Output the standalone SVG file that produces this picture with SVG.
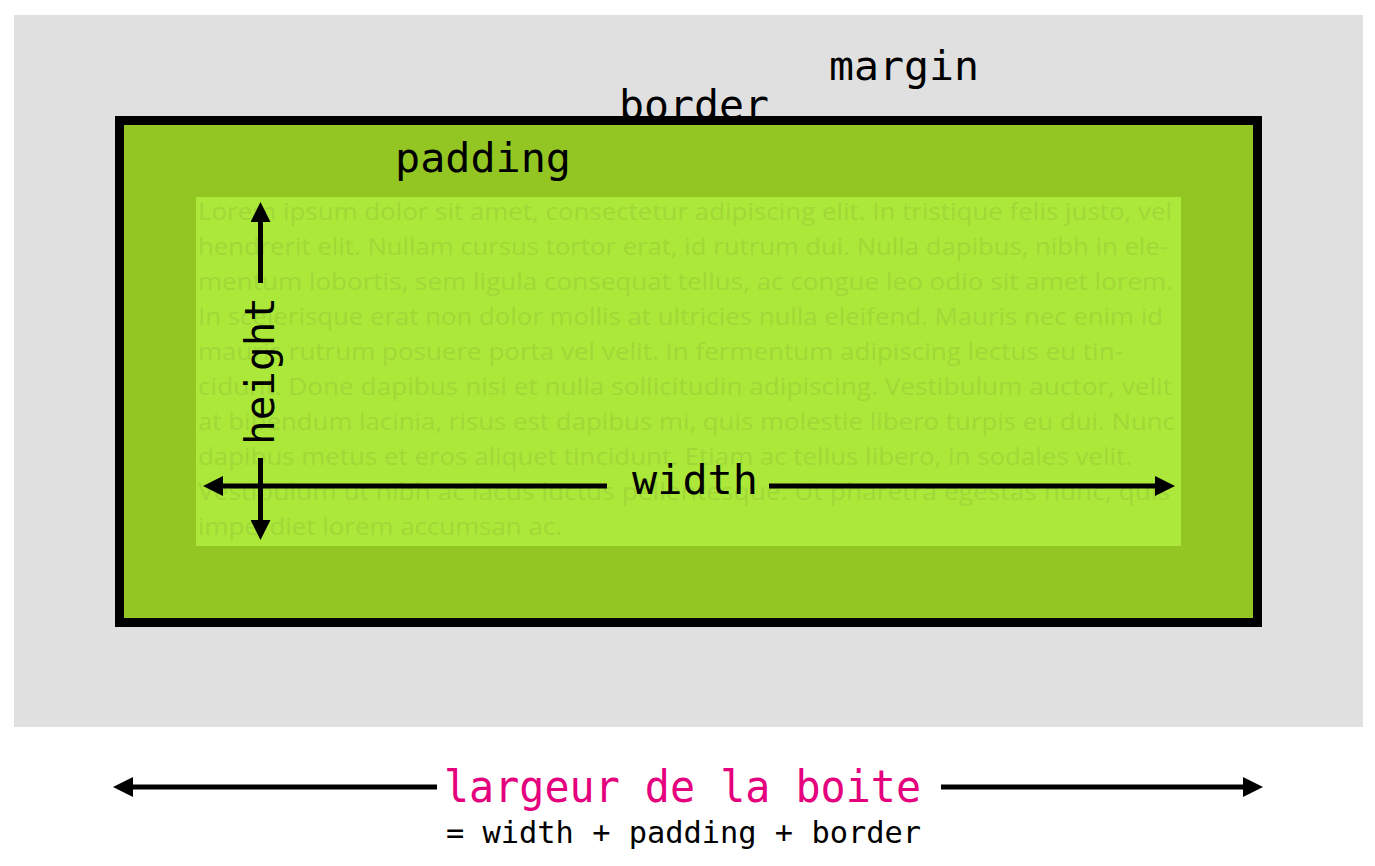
<svg xmlns="http://www.w3.org/2000/svg" width="1375" height="866" viewBox="0 0 1375 866">
  <defs>
    <marker id="ah" viewBox="0 0 20 20" refX="0" refY="10" markerWidth="20" markerHeight="20" markerUnits="userSpaceOnUse" orient="auto-start-reverse">
      <path d="M0,0 L20,10 L0,20 z" fill="#000"/>
    </marker>
    <style>
      .mono { font-family: "DejaVu Sans Mono", "Liberation Mono", monospace; fill: #000; }
      .lorem { font-family: "Open Sans", "Noto Sans", sans-serif; font-size: 24px; fill: #a0d838; }
      .arrow { stroke: #000; stroke-width: 5; fill: none; }
    </style>
  </defs>
  <rect width="1375" height="866" fill="#fff"/>

  <g id="margin">
    <rect x="14" y="15" width="1349" height="712" fill="#e0e0e0"/>
    <text class="mono" x="829" y="80" font-size="40" textLength="150" lengthAdjust="spacingAndGlyphs">margin</text>
  </g>

  <g id="border">
    <text class="mono" x="619" y="119" font-size="40" textLength="150" lengthAdjust="spacingAndGlyphs">border</text>
    <rect x="119.5" y="120.5" width="1138" height="502" fill="#93c623" stroke="#000" stroke-width="9"/>
  </g>

  <g id="padding">
    <text class="mono" x="395" y="172" font-size="40" textLength="176" lengthAdjust="spacingAndGlyphs">padding</text>
  </g>

  <g id="content">
    <rect x="196" y="197" width="985" height="349" fill="#ace83a"/>
    <text class="lorem" x="198" y="220" textLength="974" lengthAdjust="spacingAndGlyphs">Lorem ipsum dolor sit amet, consectetur adipiscing elit. In tristique felis justo, vel</text>
    <text class="lorem" x="198" y="255" textLength="970" lengthAdjust="spacingAndGlyphs">hendrerit elit. Nullam cursus tortor erat, id rutrum dui. Nulla dapibus, nibh in ele-</text>
    <text class="lorem" x="198" y="290" textLength="975" lengthAdjust="spacingAndGlyphs">mentum lobortis, sem ligula consequat tellus, ac congue leo odio sit amet lorem.</text>
    <text class="lorem" x="198" y="325" textLength="965" lengthAdjust="spacingAndGlyphs">In scelerisque erat non dolor mollis at ultricies nulla eleifend. Mauris nec enim id</text>
    <text class="lorem" x="198" y="360" textLength="925" lengthAdjust="spacingAndGlyphs">mauris rutrum posuere porta vel velit. In fermentum adipiscing lectus eu tin-</text>
    <text class="lorem" x="198" y="395" textLength="974" lengthAdjust="spacingAndGlyphs">cidunt. Done dapibus nisi et nulla sollicitudin adipiscing. Vestibulum auctor, velit</text>
    <text class="lorem" x="198" y="430" textLength="977" lengthAdjust="spacingAndGlyphs">at bibendum lacinia, risus est dapibus mi, quis molestie libero turpis eu dui. Nunc</text>
    <text class="lorem" x="198" y="465" textLength="934" lengthAdjust="spacingAndGlyphs">dapibus metus et eros aliquet tincidunt. Etiam ac tellus libero, in sodales velit.</text>
    <text class="lorem" x="198" y="500" textLength="972" lengthAdjust="spacingAndGlyphs">Vestibulum ut nibh ac lacus luctus pellentesque. Ut pharetra egestas nunc, quis</text>
    <text class="lorem" x="198" y="535" textLength="364" lengthAdjust="spacingAndGlyphs">imperdiet lorem accumsan ac.</text>
  </g>

  <g id="connectors">
    <line class="arrow" x1="260.5" y1="222" x2="260.5" y2="283" marker-start="url(#ah)"/>
    <line class="arrow" x1="260.5" y1="458" x2="260.5" y2="520" marker-end="url(#ah)"/>
    <line class="arrow" x1="607" y1="486" x2="223" y2="486" marker-end="url(#ah)"/>
    <line class="arrow" x1="769" y1="486" x2="1155" y2="486" marker-end="url(#ah)"/>
    <line class="arrow" x1="437" y1="787" x2="133" y2="787" marker-end="url(#ah)"/>
    <line class="arrow" x1="941" y1="787" x2="1243" y2="787" marker-end="url(#ah)"/>
  </g>

  <g id="height-label">
    <text class="mono" font-size="40" textLength="148" lengthAdjust="spacingAndGlyphs" transform="translate(274,445) rotate(-90)">height</text>
  </g>
  <g id="width-label">
    <text class="mono" x="632" y="494" font-size="40" textLength="126" lengthAdjust="spacingAndGlyphs">width</text>
  </g>

  <g id="box-width">
    <text class="mono" x="444" y="802" font-size="44" textLength="477" lengthAdjust="spacingAndGlyphs" style="fill:#e5007d">largeur de la boite</text>
    <text class="mono" x="446" y="843" font-size="30" textLength="475" lengthAdjust="spacingAndGlyphs">= width + padding + border</text>
  </g>
</svg>
